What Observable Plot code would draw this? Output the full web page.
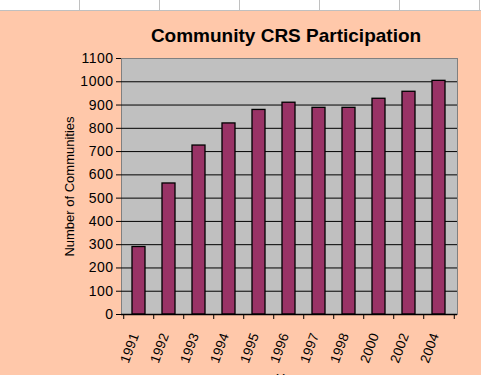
<!DOCTYPE html>
<html>
<head>
<meta charset="utf-8">
<script src="https://cdn.jsdelivr.net/npm/d3@7"></script>
<script src="https://cdn.jsdelivr.net/npm/@observablehq/plot@0.6"></script>
<style>
  html, body { margin: 0; padding: 0; }
  body { width: 481px; height: 375px; overflow: hidden; background: #ffc8aa; position: relative; font-family: "Liberation Sans", Arial, sans-serif; }
  #strip { position: absolute; left: 0; top: 0; width: 481px; height: 10px; background: #fff; border-bottom: 1px solid #c0c0c0; display: flex; }
  #strip div { flex: 0 0 79px; height: 10px; border-right: 1px solid #c0c0c0; }
  #title { position: absolute; left: 0; top: 25px; width: 572px; text-align: center; font-weight: bold; font-size: 19px; color: #000; }
  #chart { position: absolute; left: 0; top: 0; }
</style>
</head>
<body>
<div id="strip"><div></div><div></div><div></div><div></div><div></div><div></div><div></div></div>
<div id="chart"></div>
<div id="title">Community CRS Participation</div>
<script>
const years = ["1991","1992","1993","1994","1995","1996","1997","1998","2000","2002","2004"];
const communities = [290, 563, 726, 821, 879, 910, 888, 888, 927, 957, 1004];
const yTicks = [0,100,200,300,400,500,600,700,800,900,1000,1100];
const gridTicks = [100,200,300,400,500,600,700,800,900,1000];
const xTitle = "Year";
const yTitle = "Number of Communities";

const data = years.map((y, i) => ({year: y, value: communities[i]}));

const W = 481, H = 375;
const mL = 121, mR = 24, mT = 58, mB = 61;
const bw = (W - mL - mR) / years.length;

const chart = Plot.plot({
  width: W,
  height: H,
  marginLeft: mL,
  marginRight: mR,
  marginTop: mT,
  marginBottom: mB,
  style: { background: "transparent", fontFamily: "'Liberation Sans', Arial, sans-serif", fontSize: "13px", color: "#000" },
  x: { domain: years, padding: 0.565, paddingOuter: 0.28, align: 0.5 },
  y: { domain: [0, 1100] },
  marks: [
    Plot.frame({ fill: "#c0c0c0", stroke: "#808080" }),
    Plot.ruleY(gridTicks, { stroke: "#000", strokeWidth: 1 }),
    Plot.barY(data, { x: "year", y: "value", fill: "#993366", stroke: "#000", strokeWidth: 1.3 }),
    Plot.ruleY([0], { stroke: "#000", strokeWidth: 1.3 }),
    Plot.ruleX([0], { x: () => 0, frameAnchor: "left", y1: 0, y2: 1100, stroke: "#000" }),
    Plot.axisY({ className: "ytick", ticks: yTicks, tickSize: 5, tickPadding: 3, label: null, tickFormat: d => String(d) }),
    Plot.axisY({ className: "ylab", ticks: [], tickSize: 0, label: yTitle, labelAnchor: "center", labelArrow: "none", labelOffset: 57 }),
    Plot.axisX({ tickSize: 5, dx: -bw / 2, tickFormat: () => "", label: null }),
    Plot.axisX({ ticks: [years[years.length - 1]], tickSize: 5, dx: bw / 2, tickFormat: () => "", label: null }),
    Plot.axisX({ className: "xlab", tickSize: 0, tickRotate: -70, tickPadding: 19, dx: -4, label: null }),
    Plot.text([xTitle], { text: d => d, frameAnchor: "bottom", dy: 68 })
  ]
});
const root = d3.select(chart);
root.selectAll("text").style("font-size", "13px").style("font-family", "'Liberation Sans', Arial, sans-serif");
root.selectAll(".ytick text").style("font-size", "14px").style("letter-spacing", "0.5px");
root.selectAll(".ylab text").style("letter-spacing", "0.3px");
root.selectAll(".xlab text").style("font-size", "13.5px").style("letter-spacing", "0.2px");
document.getElementById("chart").appendChild(chart);
</script>
</body>
</html>
